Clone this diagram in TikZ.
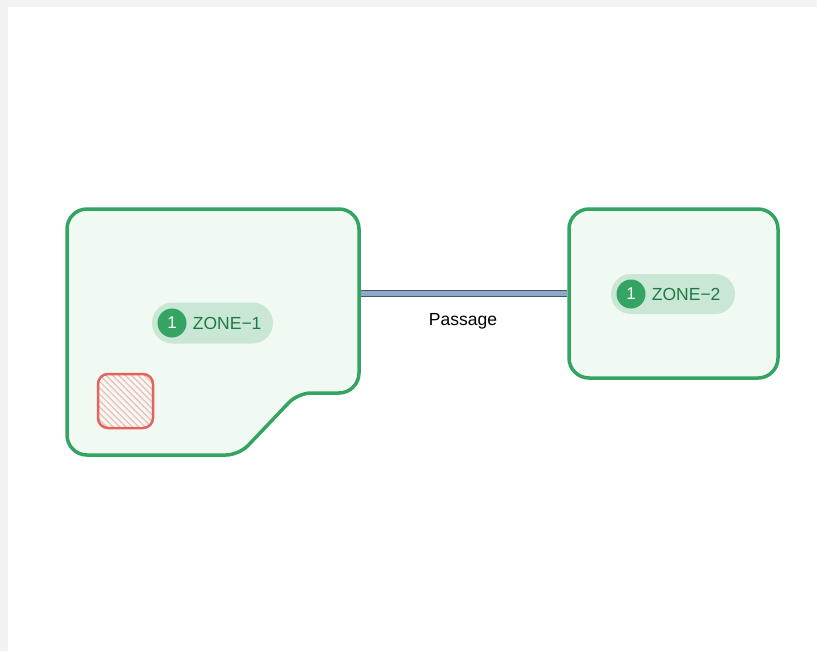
\documentclass[tikz,border=0pt]{standalone}
\usepackage{fontspec}
\setmainfont{Liberation Sans}
\usetikzlibrary{positioning, patterns.meta}

\definecolor{zonegreen}{HTML}{34A462}
\definecolor{zonefill}{HTML}{F0FAF2}
\definecolor{pillfill}{HTML}{C9E7D4}
\definecolor{pilltext}{HTML}{1E7A45}
\definecolor{passblue}{HTML}{8FA8C8}
\definecolor{passline}{HTML}{3F5A6E}
\definecolor{hazred}{HTML}{E5635E}

\begin{document}
\begin{tikzpicture}[x=1pt, y=-1pt,
    zone/.style = {draw=zonegreen, fill=zonefill, line width=3.5pt, rounded corners=20pt},
    badge/.style = {circle, fill=zonegreen, text=white, minimum size=29pt, inner sep=0pt, font=\fontsize{17}{17}\selectfont},
    zonename/.style = {text=pilltext, font=\fontsize{17.5}{17.5}\selectfont, inner sep=0pt},
    passage/.style = {double=passblue, double distance=5pt, draw=passline, line width=1pt}]
                \useasboundingbox (0,0) rectangle (817,651);
                \fill[black!5] (0,0) rectangle (817,651);
                \fill[white] (8,7) rectangle (817,651);

                % zones
                \draw[zone] (67,330) -- (67,209) -- (359,209) -- (359,393)
                    [rounded corners=13pt] -- (298,393) -- (239,455) [rounded corners=20pt] -- (67,455) -- cycle;
                \draw[zone] (569,209) rectangle (778,378);

                % hazard
                \draw[draw=hazred, line width=2.5pt, rounded corners=10pt,
                      pattern={Lines[angle=-45, distance=4.5pt, line width=1.2pt]}, pattern color=hazred!45]
                      (98,374) rectangle (153,428);

                % passage
                \coordinate (z1e) at (361,293.5);
                \coordinate (z2w) at (567,293.5);
                \draw[passage] (z1e) -- (z2w);
                \node[font=\fontsize{17.5}{17.5}\selectfont] at (463,321) (passlabel) {Passage};

                % labels
                \fill[pillfill, rounded corners=20.5pt] (152,302.5) rectangle (273,343.5);
                \node[badge] at (172,323) (b1) {1};
                \node[zonename, right=6pt of b1] (n1) {ZONE−1};

                \fill[pillfill, rounded corners=20pt] (611,274) rectangle (735,314);
                \node[badge] at (631,294) (b2) {1};
                \node[zonename, right=6pt of b2] (n2) {ZONE−2};
\end{tikzpicture}
\end{document}
